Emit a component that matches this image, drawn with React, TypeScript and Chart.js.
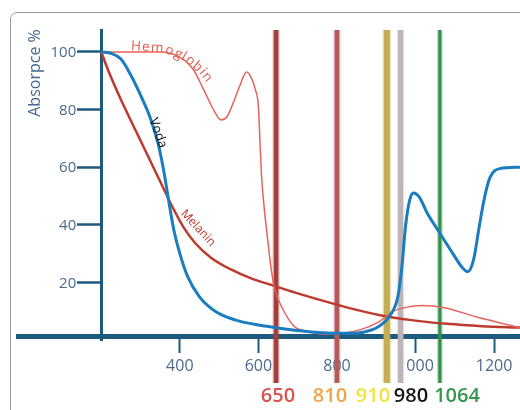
import React, { useEffect, useRef } from "react";
import { Chart, registerables } from "chart.js";
Chart.register(...registerables);

// ---- data (wavelength nm, absorption %) ----
const vodaX = [200, 225, 250, 275, 300, 325, 345, 360, 372, 385, 400, 420, 450, 490, 540, 600, 650, 700, 780, 830, 870, 905, 935, 955, 965, 975, 985, 995, 1010, 1030, 1060, 1095, 1120, 1133, 1148, 1163, 1175, 1190, 1215, 1266];
const vodaY = [100, 99.5, 97.5, 92, 85, 77, 68, 58, 48, 38, 30, 22, 15, 10, 7, 5.2, 4.2, 3.3, 2.4, 2.3, 2.8, 4.6, 8.5, 15, 25, 40, 48.5, 51, 49.5, 44, 37.5, 30, 25, 23.7, 28, 40, 49, 56.5, 59.5, 60];

const hemoX = [200, 282, 351, 402, 435, 461, 486, 505, 520, 535, 552, 570, 582, 592, 600, 604, 608, 614, 621, 634, 642, 663, 692, 714, 775, 860, 903, 944, 987, 1020, 1070, 1156, 1266];
const hemoY = [100, 100, 100, 98, 93.7, 86.8, 79.9, 76.4, 77.5, 82, 88, 93, 91, 87, 81, 69, 57, 47, 38, 23.3, 17.5, 10.5, 4.6, 3.3, 2, 3.6, 6, 10, 11.6, 12, 11.3, 8, 4.2];

const melX = [200, 215, 235, 260, 290, 320, 350, 380, 410, 440, 480, 530, 580, 640, 700, 770, 840, 910, 990, 1080, 1170, 1266];
const melY = [100, 94.5, 88, 80.5, 72, 63.5, 55, 46.5, 39, 33.5, 28.5, 24.5, 21.5, 18.8, 16.2, 13.4, 10.8, 8.6, 6.9, 5.6, 4.8, 4.3];

const xTickValues = [400, 600, 800, 1000, 1200];
const yTickValues = [20, 40, 60, 80, 100];

const laserLabels = ["650", "810", "910", "980", "1064"];
const laserPositions = [645, 800, 927, 962, 1062];
const laserColors = ["#a13f3c", "#b25b5b", "#c3ad55", "#bdb4b8", "#2f8f46"];
const laserLabelColors = ["#d9544f", "#f2a446", "#f0e23f", "#161616", "#35984c"];

const seriesNames = ["Voda", "Hemoglobin", "Melanin"];

const FONT = "'Open Sans', 'Liberation Sans', sans-serif";
const AXIS = "#1c5a7e";
const TICKTXT = "#4b6a8e";

const toPts = (xs: number[], ys: number[]) => xs.map((x, i) => ({ x, y: ys[i] }));

function textOnPath(ctx: CanvasRenderingContext2D, text: string, pts: number[][], font: string, color: string) {
  ctx.save();
  ctx.font = font;
  ctx.fillStyle = color;
  ctx.textAlign = "center";
  ctx.textBaseline = "alphabetic";
  const lens: number[] = [0];
  for (let i = 1; i < pts.length; i++) {
    lens.push(lens[i - 1] + Math.hypot(pts[i][0] - pts[i - 1][0], pts[i][1] - pts[i - 1][1]));
  }
  const total = lens[lens.length - 1];
  const chars = Array.from(text);
  const widths = chars.map((c) => ctx.measureText(c).width);
  const tw = widths.reduce((a, b) => a + b, 0);
  const k = total / tw;
  let d = 0;
  chars.forEach((c, i) => {
    const mid = d + (widths[i] * k) / 2;
    let s = 1;
    while (s < lens.length - 1 && lens[s] < mid) s++;
    const t = (mid - lens[s - 1]) / (lens[s] - lens[s - 1]);
    const x = pts[s - 1][0] + (pts[s][0] - pts[s - 1][0]) * t;
    const y = pts[s - 1][1] + (pts[s][1] - pts[s - 1][1]) * t;
    const ang = Math.atan2(pts[s][1] - pts[s - 1][1], pts[s][0] - pts[s - 1][0]);
    ctx.save();
    ctx.translate(x, y);
    ctx.rotate(ang);
    ctx.fillText(c, 0, 0);
    ctx.restore();
    d += widths[i] * k;
  });
  ctx.restore();
}

const decorPlugin = {
  id: "decor",
  beforeDatasetsDraw(chart: any) {
    const ctx = chart.ctx as CanvasRenderingContext2D;
    const xs = chart.scales.x;
    const widths = [4.5, 4.5, 6, 5, 3];
    laserPositions.forEach((v, i) => {
      const px = xs.getPixelForValue(v);
      ctx.save();
      ctx.strokeStyle = laserColors[i];
      ctx.globalAlpha = 0.35;
      ctx.lineWidth = widths[i] + 2.5;
      ctx.beginPath();
      ctx.moveTo(px, 30);
      ctx.lineTo(px, 383);
      ctx.stroke();
      ctx.globalAlpha = 1;
      ctx.lineWidth = widths[i];
      ctx.beginPath();
      ctx.moveTo(px, 30);
      ctx.lineTo(px, 383);
      ctx.stroke();
      ctx.restore();
    });
  },
  afterDraw(chart: any) {
    const ctx = chart.ctx as CanvasRenderingContext2D;
    const xs = chart.scales.x;
    const ys = chart.scales.y;

    // y tick labels (left of the tick marks)
    const axisPx = xs.getPixelForValue(200);
    ctx.save();
    ctx.font = `15px ${FONT}`;
    ctx.fillStyle = TICKTXT;
    ctx.textAlign = "right";
    ctx.textBaseline = "middle";
    yTickValues.forEach((v) => {
      ctx.fillText(String(v), axisPx - 25, ys.getPixelForValue(v) + 1);
    });
    ctx.restore();

    // laser labels
    const labelCenters = [278, 330, 373, 411, 457];
    ctx.save();
    ctx.font = `600 20px ${FONT}`;
    ctx.textAlign = "center";
    ctx.textBaseline = "middle";
    laserLabels.forEach((t, i) => {
      ctx.fillStyle = laserLabelColors[i];
      ctx.fillText(t, labelCenters[i], 396);
    });
    ctx.restore();

    // y axis title
    ctx.save();
    ctx.translate(35, 73);
    ctx.rotate(-Math.PI / 2);
    ctx.font = `16px ${FONT}`;
    ctx.fillStyle = "#45698f";
    ctx.textAlign = "center";
    ctx.textBaseline = "middle";
    ctx.fillText("Absorpce %", 0, 0);
    ctx.restore();

    // series labels
    textOnPath(ctx, seriesNames[1], [[130, 50], [160, 52], [174, 56], [187, 63], [198, 72], [207, 83]], `13.5px ${FONT}`, "#e05a50");

    ctx.save();
    ctx.translate(158, 133);
    ctx.rotate((70 * Math.PI) / 180);
    ctx.font = `13px ${FONT}`;
    ctx.fillStyle = "#111";
    ctx.textAlign = "center";
    ctx.textBaseline = "middle";
    ctx.fillText(seriesNames[0], 0, 0);
    ctx.restore();

    ctx.save();
    ctx.translate(198, 228);
    ctx.rotate((47 * Math.PI) / 180);
    ctx.font = `12px ${FONT}`;
    ctx.fillStyle = "#c0392b";
    ctx.textAlign = "center";
    ctx.textBaseline = "middle";
    ctx.fillText(seriesNames[2], 0, 0);
    ctx.restore();
  },
};

export default function App() {
  const ref = useRef<HTMLCanvasElement>(null);
  useEffect(() => {
    if (!ref.current) return;
    const chart = new Chart(ref.current, {
      type: "line",
      data: {
        datasets: [
          {
            label: seriesNames[0],
            data: toPts(vodaX, vodaY),
            borderColor: "#1b7dc0",
            borderWidth: 3,
            pointRadius: 0,
            cubicInterpolationMode: "monotone",
          },
          {
            label: seriesNames[1],
            data: toPts(hemoX, hemoY),
            borderColor: "#e8625c",
            borderWidth: 1.5,
            pointRadius: 0,
            cubicInterpolationMode: "monotone",
          },
          {
            label: seriesNames[2],
            data: toPts(melX, melY),
            borderColor: "#bd3a2c",
            borderWidth: 2.5,
            pointRadius: 0,
            cubicInterpolationMode: "monotone",
          },
        ],
      },
      options: {
        animation: false,
        responsive: true,
        maintainAspectRatio: false,
        layout: { padding: { left: 18, right: 0, top: 30, bottom: 70 } },
        plugins: { legend: { display: false }, tooltip: { enabled: false }, title: { display: false } },
        scales: {
          x: {
            type: "linear",
            min: -12,
            max: 1266,
            position: { y: 1.3 } as any,
            afterBuildTicks: (s: any) => {
              s.ticks = xTickValues.map((v) => ({ value: v }));
            },
            border: { display: true, color: AXIS, width: 5 },
            grid: { display: true, drawOnChartArea: false, drawTicks: true, tickLength: 14, tickWidth: 2, tickColor: AXIS },
            ticks: {
              color: TICKTXT,
              font: { family: FONT, size: 16 },
              padding: 7,
              maxRotation: 0,
              callback: (v: any) => String(v),
            },
          },
          y: {
            type: "linear",
            min: 0,
            max: 107.6,
            position: { x: 200 } as any,
            afterBuildTicks: (s: any) => {
              s.ticks = yTickValues.map((v) => ({ value: v }));
            },
            border: { display: true, color: AXIS, width: 3 },
            grid: { display: true, drawOnChartArea: false, drawTicks: true, tickLength: 23, tickWidth: 2.5, tickColor: AXIS },
            ticks: { display: false },
          },
        },
      },
      plugins: [decorPlugin],
    });
    return () => chart.destroy();
  }, []);

  return (
    <div style={{ position: "absolute", left: 0, top: 0, width: 520, height: 410, overflow: "hidden", background: "#fff" }}>
      <div
        style={{
          position: "absolute",
          left: 10,
          top: 12,
          width: 560,
          height: 460,
          border: "1.5px solid #9a9a9a",
          borderRadius: 7,
        }}
      />
      <div style={{ position: "absolute", left: 0, top: 0, width: 520, height: 410 }}>
        <canvas ref={ref} />
      </div>
    </div>
  );
}
